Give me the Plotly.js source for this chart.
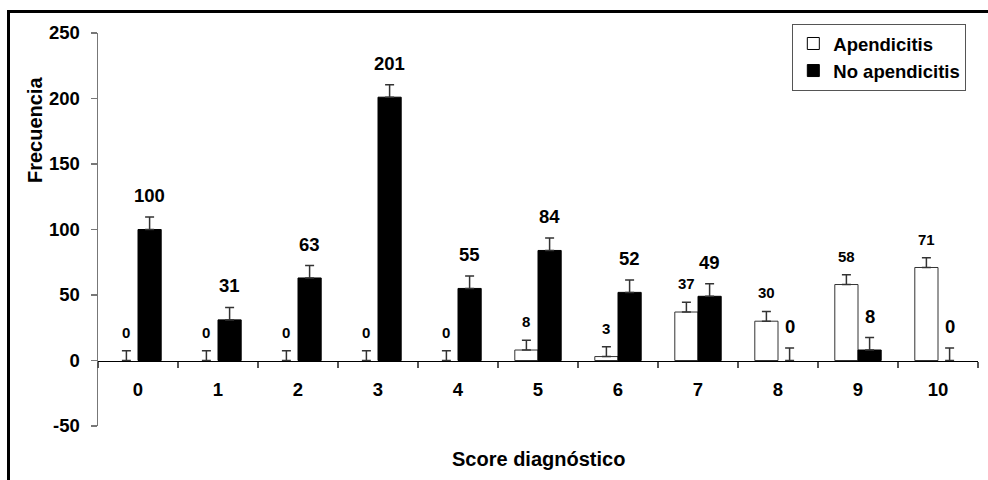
<!DOCTYPE html>
<html>
<head>
<meta charset="utf-8">
<script src="https://cdn.plot.ly/plotly-3.0.1.min.js"></script>
<style>
  html, body { margin: 0; padding: 0; background: #fff; }
  #wrap { position: relative; width: 988px; height: 480px; overflow: hidden; }
  #chart { position: absolute; left: 0; top: 0; width: 988px; height: 480px; }
  #frame { position: absolute; left: 7px; top: 10px; width: 1000px; height: 500px;
           border-left: 3px solid #000; border-top: 3px solid #000; pointer-events: none; }
</style>
</head>
<body>
<div id="wrap"><div id="chart"></div><div id="frame"></div></div>
<script>
const categories = ['0','1','2','3','4','5','6','7','8','9','10'];
const apendicitis = [0, 0, 0, 0, 0, 8, 3, 37, 30, 58, 71];
const noApendicitis = [100, 31, 63, 201, 55, 84, 52, 49, 0, 8, 0];
const apendicitisErr = [7.5, 7.5, 7.5, 7.5, 7.5, 7.5, 7.5, 7.5, 7.5, 7.5, 7.5];
const noApendicitisErr = [9.5, 9.5, 9.5, 9.5, 9.5, 9.5, 9.5, 9.5, 9.5, 9.5, 9.5];
const yTicks = [-50, 0, 50, 100, 150, 200, 250];

const FONT = 'Liberation Sans, Arial, sans-serif';
const bold = (size, color) => ({family: FONT, size: size, color: color || '#000', weight: 'bold'});

const traces = [
  {
    type: 'bar', name: 'Apendicitis', x: categories, y: apendicitis, offsetgroup: 'a', showlegend: false,
    marker: {color: '#ffffff', line: {color: '#333', width: apendicitis.map(v => v === 0 ? 0 : 1)}},
    error_y: {type: 'data', array: apendicitisErr, symmetric: false, arrayminus: apendicitis.map(() => 0),
              color: '#333', thickness: 1.5, width: 4.5},
    hoverinfo: 'skip'
  },
  {
    type: 'bar', name: 'No apendicitis', x: categories, y: noApendicitis, offsetgroup: 'b', showlegend: false,
    marker: {color: '#000000', line: {color: '#000', width: noApendicitis.map(v => v === 0 ? 0 : 1)}},
    error_y: {type: 'data', array: noApendicitisErr, symmetric: false, arrayminus: noApendicitis.map(() => 0),
              color: '#333', thickness: 1.5, width: 4.5},
    hoverinfo: 'skip'
  },
  {
    type: 'bar', name: 'Apendicitis', x: [categories[0]], y: [null], offsetgroup: 'a', showlegend: true,
    marker: {color: '#ffffff', line: {color: '#000', width: 1}}, hoverinfo: 'skip'
  },
  {
    type: 'bar', name: 'No apendicitis', x: [categories[0]], y: [null], offsetgroup: 'b', showlegend: true,
    marker: {color: '#000000', line: {color: '#000', width: 1}}, hoverinfo: 'skip'
  }
];

const bargap = 0.42;
const catPx = 80;
const half = catPx * (1 - bargap) / 4;

const annotations = [];
categories.forEach((c, i) => {
  annotations.push({
    x: c, y: apendicitis[i] + apendicitisErr[i], xref: 'x', yref: 'y',
    text: String(apendicitis[i]), showarrow: false, xanchor: 'center', yanchor: 'bottom',
    xshift: -half, yshift: 8, font: bold(15)
  });
  annotations.push({
    x: c, y: noApendicitis[i] + noApendicitisErr[i], xref: 'x', yref: 'y',
    text: String(noApendicitis[i]), showarrow: false, xanchor: 'center', yanchor: 'bottom',
    xshift: half, yshift: 9, font: bold(18.5)
  });
});
annotations.push({
  text: 'Frecuencia', textangle: -90, xref: 'paper', yref: 'paper',
  x: -0.0716, y: 0.753, xanchor: 'center', yanchor: 'middle', showarrow: false, font: bold(20)
});
annotations.push({
  text: 'Score diagnóstico', xref: 'paper', yref: 'paper',
  x: 0.5, y: -0.084, xanchor: 'center', yanchor: 'middle', showarrow: false, font: bold(20)
});

const layout = {
  width: 988, height: 480,
  margin: {l: 98, r: 10, t: 33, b: 54},
  paper_bgcolor: '#fff', plot_bgcolor: '#fff',
  barmode: 'group', bargap: bargap, bargroupgap: 0,
  showlegend: true,
  legend: {x: 0.789, y: 1.023, xanchor: 'left', yanchor: 'top', bgcolor: '#fff',
           bordercolor: '#555', borderwidth: 1, font: bold(18.5), tracegroupgap: 0, traceorder: 'normal',
           itemwidth: 30},
  xaxis: {
    type: 'category', range: [-0.5, 10.5], anchor: 'free', position: 50 / 300,
    showline: true, linecolor: '#000', linewidth: 1.5,
    ticks: 'outside', tickson: 'boundaries', ticklen: 6, tickcolor: '#555', tickwidth: 1.5,
    tickfont: bold(18.5), ticklabelstandoff: 12, showgrid: false, zeroline: false, fixedrange: true
  },
  yaxis: {
    range: [-50, 250], tickvals: yTicks, ticktext: yTicks.map(String),
    showline: true, linecolor: '#777', linewidth: 1.5,
    ticks: 'outside', ticklen: 6, tickcolor: '#777', tickwidth: 1.5,
    tickfont: bold(18.5), ticklabelstandoff: 7, showgrid: false, zeroline: false, fixedrange: true
  },
  annotations: annotations
};

Plotly.newPlot('chart', traces, layout, {displayModeBar: false, staticPlot: true});
</script>
</body>
</html>
